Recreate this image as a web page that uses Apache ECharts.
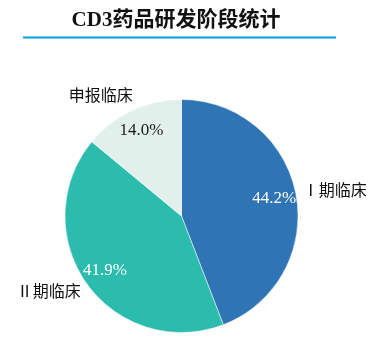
<!DOCTYPE html>
<html>
<head>
<meta charset="utf-8">
<script src="https://cdn.jsdelivr.net/npm/echarts@6/dist/echarts.min.js"></script>
<style>
  html, body { margin: 0; padding: 0; background: #fff; }
  #chart { width: 384px; height: 342px; }
</style>
</head>
<body>
<div id="chart"></div>
<script>
// 研发阶段 and share (%)
const stages = ["Ⅰ期临床", "Ⅱ期临床", "申报临床"];
const shares = [44.2, 41.9, 14.0];

const sliceColors = ["#2f75b5", "#2bbcad", "#e2f0eb"];
const pctColors = ["#ffffff", "#ffffff", "#1a1a1a"];
// small nudges for the outside stage names
const nameNudge = [[-3, -3], [2, 1], [5, -7]];

const center = [181.5, 216];
const radius = 116.5;

const chart = echarts.init(document.getElementById("chart"), null, { renderer: "canvas" });

chart.setOption({
  animation: false,
  backgroundColor: "#fff",
  title: {
    text: "CD3药品研发阶段统计",
    left: 171,
    top: 5,
    textAlign: "center",
    textStyle: {
      fontFamily: "'Liberation Serif', 'Noto Sans CJK SC', serif",
      fontSize: 21,
      fontWeight: "bold",
      color: "#111",
    },
  },
  graphic: [
    {
      type: "line",
      shape: { x1: 23, y1: 37.5, x2: 336, y2: 37.5 },
      style: { stroke: "#00a0dc", lineWidth: 2 },
    },
  ],
  series: [
    {
      // slices + stage names outside
      type: "pie",
      center: center,
      radius: radius,
      startAngle: 90,
      clockwise: true,
      silent: true,
      itemStyle: { borderColor: "#fff", borderWidth: 0.5 },
      label: {
        show: true,
        position: "outside",
        formatter: "{b}",
        fontFamily: "'Noto Sans CJK SC', sans-serif",
        fontSize: 16,
        color: "#111",
        distanceToLabelLine: 0,
      },
      labelLine: { show: false, length: 10, length2: 0 },
      labelLayout: (p) => ({ dx: nameNudge[p.dataIndex][0], dy: nameNudge[p.dataIndex][1] }),
      data: stages.map((name, i) => ({
        name: name,
        value: shares[i],
        itemStyle: { color: sliceColors[i] },
      })),
    },
    {
      // transparent ring that places the percent labels near the rim
      type: "pie",
      center: center,
      radius: [66, radius],
      startAngle: 90,
      clockwise: true,
      silent: true,
      itemStyle: { color: "rgba(0,0,0,0)" },
      label: {
        show: true,
        position: "inside",
        fontFamily: "'Liberation Serif', serif",
        fontSize: 17,
        formatter: (p) => p.value.toFixed(1) + "%",
      },
      labelLine: { show: false },
      data: stages.map((name, i) => ({
        name: name,
        value: shares[i],
        label: { color: pctColors[i] },
      })),
    },
  ],
});
</script>
</body>
</html>
